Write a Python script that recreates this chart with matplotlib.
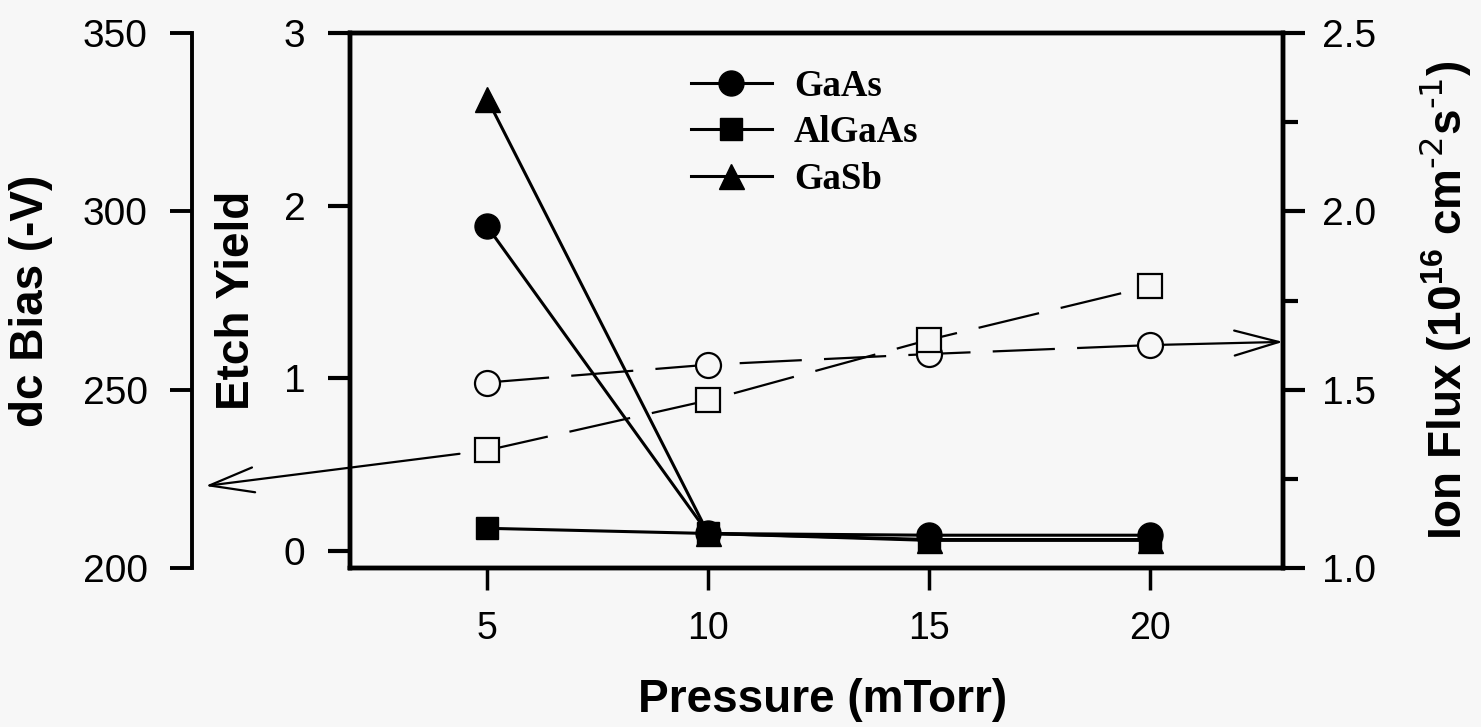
import numpy as np
import matplotlib.pyplot as plt

# Pressure (mTorr)
pressure = [5, 10, 15, 20]

# Etch yield
gaas = [1.88, 0.10, 0.09, 0.09]
algaas = [0.13, 0.10, 0.065, 0.065]
gasb = [2.62, 0.10, 0.06, 0.06]

# dc bias (-V) and ion flux (1e16 cm^-2 s^-1)
dc_bias = [233, 247, 264, 279]
ion_flux = [1.52, 1.57, 1.60, 1.625]

plt.rcParams['font.family'] = ['Liberation Sans', 'DejaVu Sans']
plt.rcParams['mathtext.default'] = 'regular'

bg = '#f7f7f7'
fig = plt.figure(figsize=(14.81, 7.27), dpi=100, facecolor=bg)
ax = fig.add_axes([350/1481, 159/727, 933/1481, 535/727])
ax.set_facecolor('none')
ax2 = ax.twinx()   # ion flux, right
ax3 = ax.twinx()   # dc bias, outer left

###############################################################################
# etch yield (filled markers, solid lines)
l1, = ax.plot(pressure, gaas, '-o', color='k', lw=2.2, ms=18, label='GaAs')
l2, = ax.plot(pressure, algaas, '-s', color='k', lw=2.2, ms=16, label='AlGaAs')
l3, = ax.plot(pressure, gasb, '-^', color='k', lw=2.2, ms=18, label='GaSb')

# ion flux / dc bias (open markers, dashed lines)
dash = (0, (28, 10))
ax2.plot(pressure, ion_flux, 'o', ls=dash, color='k', lw=1.6, ms=18,
         mfc=bg, mec='k', mew=1.6)
ax3.plot(pressure, dc_bias, 's', ls=dash, color='k', lw=1.6, ms=17,
         mfc=bg, mec='k', mew=1.6)

# arrows pointing to the relevant axes
arrow = dict(arrowstyle='->,head_length=3.2,head_width=0.9', mutation_scale=10,
             lw=1.6, color='k', shrinkB=0)
ax2.annotate('', xy=(1.0, 1.634), xycoords=('axes fraction', 'data'),
             xytext=(pressure[-1], ion_flux[-1]), textcoords='data',
             arrowprops=dict(arrow, shrinkA=9), annotation_clip=False)
ax3.annotate('', xy=(-0.155, 223), xycoords=('axes fraction', 'data'),
             xytext=(pressure[0], dc_bias[0]), textcoords='data',
             arrowprops=dict(arrow, shrinkA=20), annotation_clip=False)

###############################################################################
# axes setup
ax.set_xlim(1.9, 23)
ax.set_ylim(-0.1, 3.0)
ax.set_xticks(pressure)
ax.set_yticks([0, 1, 2, 3])
ax.tick_params(axis='x', direction='out', length=16, width=2.5, labelsize=27, pad=15)
ax.tick_params(axis='y', direction='out', length=16, width=3, labelsize=28, pad=16)
for s in ax.spines.values():
    s.set_linewidth(3.2)

ax2.set_ylim(1.0, 2.5)
ax2.set_yticks([1.0, 1.5, 2.0, 2.5])
ax2.set_yticks([1.25, 1.75, 2.25], minor=True)
ax2.tick_params(axis='y', which='major', direction='out', length=16, width=3,
                labelsize=28, pad=12)
ax2.tick_params(axis='y', which='minor', direction='out', length=11, width=3)
ax2.yaxis.set_major_formatter(plt.FormatStrFormatter('%.1f'))
for s in ax2.spines.values():
    s.set_linewidth(3.2)

ax3.set_ylim(200, 350)
ax3.set_yticks([200, 250, 300, 350])
ax3.yaxis.set_ticks_position('left')
ax3.yaxis.set_label_position('left')
for side in ['top', 'bottom', 'right']:
    ax3.spines[side].set_visible(False)
ax3.spines['left'].set_visible(True)
ax3.spines['left'].set_position(('axes', -0.1693))
ax3.spines['left'].set_linewidth(2.8)
ax3.tick_params(axis='y', direction='out', length=16, width=2.8, labelsize=28, pad=16)

# labels
lab = dict(fontsize=33, fontweight='bold', va='center')
ax.set_xlabel('Pressure (mTorr)', **lab)
ax.xaxis.set_label_coords(0.507, -0.247)
ax.set_ylabel('Etch Yield', **lab)
ax.yaxis.set_label_coords(-0.121, 0.5)
ax3.set_ylabel('dc Bias (-V)', **lab)
ax3.yaxis.set_label_coords(-0.342, 0.5)
ax2.set_ylabel(r'Ion Flux (10$^{16}$ cm$^{\text{-2}}$s$^{\text{-1}}$)', rotation=90, **lab)
ax2.yaxis.set_label_coords(1.1736, 0.5)

ax.legend(handles=[l1, l2, l3], loc='upper left', bbox_to_anchor=(0.3655, 0.933),
          frameon=False, borderpad=0, borderaxespad=0, handlelength=2.2,
          handletextpad=0.6, labelspacing=0.31,
          prop=dict(family='Liberation Serif', weight='bold', size=26.5))

fig.savefig('out.png', dpi=100, facecolor=bg)
